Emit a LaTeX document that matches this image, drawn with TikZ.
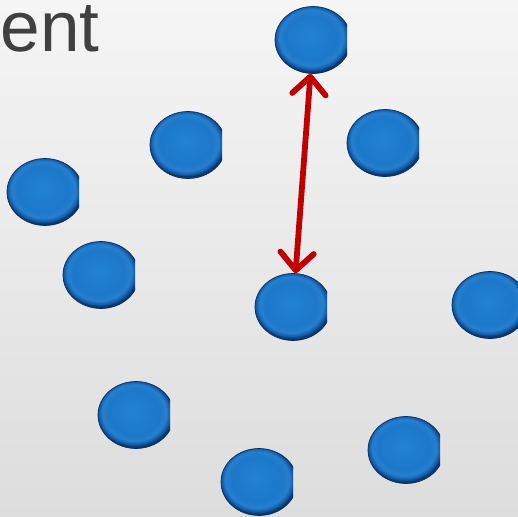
\documentclass[tikz,border=0pt]{standalone}
\usepackage{fontspec}
\setmainfont{Liberation Sans}
\usepackage{tikz}
\usetikzlibrary{positioning, arrows.meta, shapes.geometric}
\definecolor{titleGray}{HTML}{404040}
\definecolor{arrowRed}{HTML}{C00000}
\definecolor{ballRim}{HTML}{0A2F5C}
\definecolor{bgLight}{HTML}{F5F5F5}
\definecolor{bgDark}{HTML}{DDDDDD}
\pgfdeclareradialshading{ballshade}{\pgfpoint{-2bp}{3bp}}{%
  rgb(0bp)=(0.13,0.51,0.83);
  rgb(17bp)=(0.11,0.47,0.79);
  rgb(21bp)=(0.15,0.50,0.81);
  rgb(23.5bp)=(0.07,0.36,0.66);
  rgb(25bp)=(0.04,0.22,0.42);
  rgb(50bp)=(0.04,0.22,0.42)}

\begin{document}
\begin{tikzpicture}[
  x=0.02cm, y=-0.02cm,
  ballnode/.style={
    ellipse, inner sep=0pt,
    minimum width=1.52cm, minimum height=1.34cm,
    shading=ballshade, draw=ballRim, line width=0.4pt
  },
  distarrow/.style={
    arrowRed, line width=3.3pt,
    {Straight Barb[round, length=10pt, width=19pt]}-{Straight Barb[round, length=10pt, width=19pt]}
  },
  titletext/.style={
    anchor=base west, inner sep=0pt, text=titleGray,
    text height=28.5pt, text depth=0pt,
    font=\fontsize{40.5}{41}\selectfont
  },
]

% === BACKGROUND ===
\shade[top color=bgLight, bottom color=bgDark] (0,0) rectangle (518,517);
\useasboundingbox (0,0) rectangle (518,517);

% === TITLE (cut off) ===
\node[titletext] (title) at (0.5,52) {ent};

% === BALLS ===
\foreach \bx/\by/\bn in {313/40/b1, 188/145/b2, 385/143/b3, 45/192/b4,
  101/275/b5, 293/307/b6, 490/305/b7, 136/415/b8, 406/450/b9, 259/482/b10}{
  \begin{scope}
    \clip (\bx-45,\by-40) rectangle (\bx+34,\by+40);
    \node[ballnode] (\bn) at (\bx,\by) {};
  \end{scope}
}

% === DISTANCE ARROW ===
\draw[distarrow] (b1) -- (b6);

\end{tikzpicture}
\end{document}
